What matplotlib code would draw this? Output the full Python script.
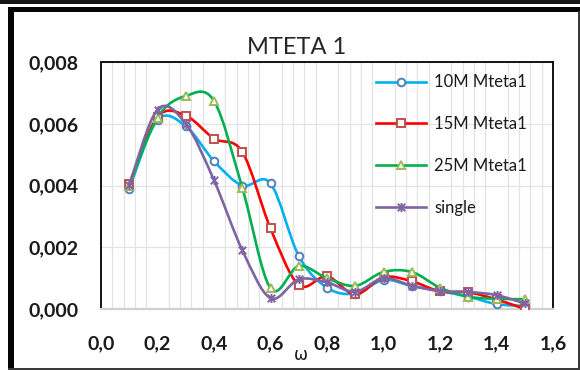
import numpy as np
import matplotlib
matplotlib.use("Agg")
import matplotlib.pyplot as plt
from matplotlib.path import Path
from matplotlib.patches import PathPatch, Rectangle
from matplotlib.lines import Line2D
from matplotlib.ticker import FuncFormatter, MultipleLocator

# ---- data -------------------------------------------------------------
omega = [0.1, 0.2, 0.3, 0.4, 0.5, 0.6, 0.7, 0.8, 0.9, 1.0, 1.1, 1.2, 1.3, 1.4, 1.5]
m10 = [0.0039, 0.00612, 0.00592, 0.00479, 0.0040, 0.00407, 0.00172, 0.00069,
       0.0005, 0.00094, 0.00075, 0.00058, 0.0004, 0.00016, 0.0001]
m15 = [0.00405, 0.00622, 0.00626, 0.00552, 0.00509, 0.00261, 0.00078, 0.00106,
       0.00047, 0.00103, 0.0009, 0.00057, 0.00054, 0.00031, 0.0]
m25 = [0.004, 0.0062, 0.0069, 0.00674, 0.00393, 0.00067, 0.00139, 0.001,
       0.00075, 0.0012, 0.0012, 0.00069, 0.0004, 0.00033, 0.00032]
single = [0.00402, 0.00646, 0.006, 0.00417, 0.00191, 0.00035, 0.00096, 0.00086,
          0.00056, 0.001, 0.00075, 0.00058, 0.00055, 0.00045, 0.00018]
labels = ["10M Mteta1", "15M Mteta1", "25M Mteta1", "single"]
title = "MTETA 1"
xlabel = "ω"

# ---- style ------------------------------------------------------------
W, H = 580, 370
fig = plt.figure(figsize=(W / 100, H / 100), dpi=100)
fig.patch.set_facecolor("white")
ax = fig.add_axes([101 / W, 61 / H, 452 / W, 247 / H])

line_cols = ["#00B0F0", "#FF0000", "#00B050", "#8064A2"]
edge_cols = ["#4F81BD", "#C0504D", "#9BBB59", "#7E63A6"]
star = Path([(-1, -1), (1, 1), (-1, 1), (1, -1), (0, -1.2), (0, 1.2)],
            [Path.MOVETO, Path.LINETO, Path.MOVETO, Path.LINETO, Path.MOVETO, Path.LINETO])
markers = ["o", "s", "^", star]
msizes = [5.5, 6, 6, 6.5]


def smooth_path(x, y):
    """Catmull-Rom style Bezier path through the points."""
    pts = np.column_stack([x, y])
    n = len(pts)
    verts = [pts[0]]
    codes = [Path.MOVETO]
    for i in range(n - 1):
        p0 = pts[max(i - 1, 0)]
        p1 = pts[i]
        p2 = pts[i + 1]
        p3 = pts[min(i + 2, n - 1)]
        c1 = p1 + (p2 - p0) / 6.0
        c2 = p2 - (p3 - p1) / 6.0
        verts += [c1, c2, p2]
        codes += [Path.CURVE4] * 3
    return Path(verts, codes)


series = [m10, m15, m25, single]
handles = []
for k, ys in enumerate(series):
    patch = PathPatch(smooth_path(omega, ys), facecolor="none",
                      edgecolor=line_cols[k], lw=1.9, zorder=3 + k,
                      capstyle="round", joinstyle="round")
    ax.add_patch(patch)
    filled = "white" if k < 3 else "none"
    ax.plot(omega, ys, linestyle="none", marker=markers[k], ms=msizes[k],
            mfc=filled, mec=edge_cols[k], mew=1.4, zorder=3.5 + k)
    handles.append(Line2D([], [], color=line_cols[k], lw=1.9,
                          marker=markers[k], ms=msizes[k], mfc=filled,
                          mec=edge_cols[k], mew=1.4))

ax.set_xlim(0, 1.6)
ax.set_ylim(0, 0.008)
ax.xaxis.set_major_locator(MultipleLocator(0.2))
ax.yaxis.set_major_locator(MultipleLocator(0.002))
ax.xaxis.set_minor_locator(MultipleLocator(0.04))
ax.xaxis.set_major_formatter(FuncFormatter(lambda v, p: f"{v:.1f}".replace(".", ",")))
ax.yaxis.set_major_formatter(FuncFormatter(lambda v, p: f"{v:.3f}".replace(".", ",")))

ax.grid(True, which="minor", axis="x", color="#E3E3E3", lw=0.9, zorder=0)
ax.grid(True, which="major", axis="y", color="#E3E3E3", lw=0.9, zorder=0)
ax.set_axisbelow(True)

for s in ["left", "top", "right"]:
    ax.spines[s].set_color("#111111")
    ax.spines[s].set_linewidth(1.4)
ax.spines["bottom"].set_color("#D0D0D0")
ax.spines["bottom"].set_linewidth(1.6)

ax.tick_params(axis="both", which="both", length=0)
ax.tick_params(axis="y", pad=16)
ax.tick_params(axis="x", pad=19)
for lab in ax.get_xticklabels() + ax.get_yticklabels():
    lab.set_fontfamily("Lato")
    lab.set_fontweight("bold")
    lab.set_fontsize(14)
    lab.set_color("#1a1a1a")

fig.text(297 / W, 1 - 47 / H, title, ha="center", va="center",
         family="Lato", weight="normal", fontsize=17, color="#262626")
fig.text(301 / W, 1 - 355 / H, xlabel, ha="center", va="center",
         family="DejaVu Sans", fontsize=12, color="#1a1a1a")

leg = ax.legend(handles, labels, loc="upper left",
                bbox_to_anchor=((376 - 101) / 452, 0.95), frameon=False,
                prop=dict(family="Lato", size=12), handlelength=3.0,
                handletextpad=0.5, labelspacing=1.55, borderpad=0,
                borderaxespad=0, numpoints=1)
for t in leg.get_texts():
    t.set_color("#1a1a1a")

# outer frame
def frame_rect(x0, y0, x1, y1, color):
    fig.add_artist(Rectangle((x0 / W, 1 - y1 / H), (x1 - x0) / W, (y1 - y0) / H,
                             transform=fig.transFigure, facecolor=color,
                             edgecolor="none", zorder=10))

frame_rect(0, 0, W, 3.5, "#151515")
frame_rect(8, 7, W, 11.5, "#050505")
frame_rect(8, 7, 13.5, 369.5, "#050505")
frame_rect(577.5, 11, 579.5, 369.5, "#3a3a3a")
frame_rect(8, 367.8, 579.5, 369.5, "#3a3a3a")

fig.savefig("out.png", dpi=100, facecolor="white")
